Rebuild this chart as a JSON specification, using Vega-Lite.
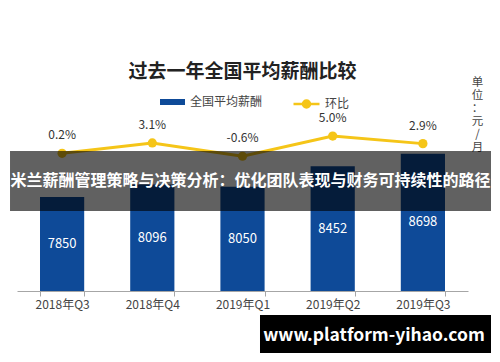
{
  "$schema": "https://vega.github.io/schema/vega-lite/v6.json",
  "width": 451,
  "height": 178,
  "autosize": {"type": "none"},
  "padding": {"left": 17, "top": 113, "right": 32, "bottom": 71},
  "background": "white",
  "title": {
    "text": "过去一年全国平均薪酬比较",
    "frame": "group",
    "anchor": "middle",
    "fontSize": 19,
    "fontWeight": "bold",
    "color": "#222222",
    "font": "Noto Sans CJK SC",
    "offset": -6
  },
  "config": {
    "view": {"stroke": null},
    "font": "Noto Sans CJK SC",
    "locale": {"number": {"decimal": ".", "thousands": ",", "grouping": [3], "currency": ["", ""], "minus": "-"}}
  },
  "layer": [
    {
      "data": {
        "values": [
          {"quarter": "2018年Q3", "salary": 7850, "mom": 0.002},
          {"quarter": "2018年Q4", "salary": 8096, "mom": 0.031},
          {"quarter": "2019年Q1", "salary": 8050, "mom": -0.006},
          {"quarter": "2019年Q2", "salary": 8452, "mom": 0.05},
          {"quarter": "2019年Q3", "salary": 8698, "mom": 0.029}
        ]
      },
      "encoding": {
        "x": {
          "field": "quarter",
          "type": "nominal",
          "sort": null,
          "scale": {"type": "band", "paddingInner": 0.51, "paddingOuter": 0.255},
          "axis": {
            "title": null,
            "labelAngle": 0,
            "labelFontSize": 12,
            "labelColor": "#444444",
            "labelPadding": 3,
            "domainColor": "#a6a6a6",
            "tickColor": "#a6a6a6",
            "tickSize": 5,
            "tickBand": "extent",
            "grid": false
          }
        }
      },
      "layer": [
        {
          "mark": {"type": "bar"},
          "encoding": {
            "y": {"field": "salary", "type": "quantitative", "scale": {"domain": [6000, 9500], "nice": false, "zero": false}, "axis": null},
            "y2": {"datum": 6000},
            "fill": {
              "datum": "全国平均薪酬",
              "type": "nominal",
              "scale": {"domain": ["全国平均薪酬"], "range": ["#0e4a98"]},
              "legend": {
                "title": null,
                "orient": "none",
                "legendX": 143,
                "legendY": -23.5,
                "padding": 0,
                "symbolType": "M-1,-0.24H1V0.24H-1Z",
                "symbolSize": 625,
                "symbolStrokeWidth": 0,
                "labelFontSize": 12,
                "labelColor": "#444444",
                "labelOffset": 5
              }
            }
          }
        },
        {
          "mark": {"type": "text", "color": "white", "fontSize": 13, "baseline": "middle"},
          "encoding": {
            "y": {"field": "salary", "type": "quantitative", "scale": {"domain": [6000, 13000], "nice": false, "zero": false}, "axis": null},
            "text": {"field": "salary", "type": "quantitative", "format": "d"}
          }
        },
        {
          "mark": {"type": "line", "strokeWidth": 3},
          "encoding": {
            "y": {
              "field": "mom",
              "type": "quantitative",
              "scale": {"domain": [-0.38, 0.114], "nice": false, "zero": false},
              "axis": {
                "orient": "right",
                "labels": false,
                "ticks": false,
                "domain": false,
                "grid": false,
                "title": ["单", "位", "：", "元", "/", "月"],
                "titleAngle": 0,
                "titleAlign": "center",
                "titleBaseline": "top",
                "titleX": 9,
                "titleY": -37,
                "titleFontSize": 11.5,
                "titleFontWeight": "normal",
                "titleColor": "#444444",
                "titleLineHeight": 13
              }
            },
            "stroke": {
              "datum": "环比",
              "type": "nominal",
              "scale": {"domain": ["环比"], "range": ["#f5c518"]},
              "legend": {
                "title": null,
                "orient": "none",
                "legendX": 275,
                "legendY": -23.5,
                "padding": 0,
                "symbolType": "M-1,0H1M0.27,0A0.27,0.27,0,1,1,-0.27,0A0.27,0.27,0,1,1,0.27,0Z",
                "symbolSize": 676,
                "symbolStrokeWidth": 2.5,
                "symbolFillColor": "#f5c518",
                "labelFontSize": 12,
                "labelColor": "#444444",
                "labelOffset": 4
              }
            }
          }
        },
        {
          "mark": {"type": "circle", "color": "#f5c518", "size": 85, "opacity": 1},
          "encoding": {
            "y": {"field": "mom", "type": "quantitative", "scale": {"domain": [-0.38, 0.114], "nice": false, "zero": false}, "axis": null}
          }
        },
        {
          "mark": {"type": "text", "color": "#333333", "fontSize": 12, "baseline": "middle", "dy": -18},
          "encoding": {
            "y": {"field": "mom", "type": "quantitative", "scale": {"domain": [-0.38, 0.114], "nice": false, "zero": false}, "axis": null},
            "text": {"field": "mom", "type": "quantitative", "format": ".1%"}
          }
        }
      ],
      "resolve": {"scale": {"y": "independent"}}
    },
    {
      "layer": [
        {
          "data": {"values": [{"text": "米兰薪酬管理策略与决策分析：优化团队表现与财务可持续性的路径"}]},
          "mark": {"type": "rect", "color": "black", "opacity": 0.62},
          "encoding": {
            "x": {"datum": -0.0155, "type": "quantitative", "scale": {"domain": [0, 1], "nice": false, "zero": false}, "axis": null},
            "x2": {"datum": 1.051},
            "y": {"datum": 0.7865, "type": "quantitative", "scale": {"domain": [0, 1], "nice": false, "zero": false}, "axis": null},
            "y2": {"datum": 0.4494}
          }
        },
        {
          "data": {"values": [{"text": "米兰薪酬管理策略与决策分析：优化团队表现与财务可持续性的路径"}]},
          "mark": {"type": "text", "color": "white", "fontSize": 16, "fontWeight": "bold", "baseline": "middle", "align": "center"},
          "encoding": {
            "x": {"datum": 0.5177, "type": "quantitative"},
            "y": {"datum": 0.618, "type": "quantitative"},
            "text": {"field": "text", "type": "nominal"}
          }
        },
        {
          "data": {"values": [{"text": "www.platform-yihao.com"}]},
          "mark": {"type": "rect", "color": "black", "opacity": 1},
          "encoding": {
            "x": {"datum": 0.5388, "type": "quantitative"},
            "x2": {"datum": 1.051},
            "y": {"datum": -0.1348, "type": "quantitative"},
            "y2": {"datum": -0.3483}
          }
        },
        {
          "data": {"values": [{"text": "www.platform-yihao.com"}]},
          "mark": {"type": "text", "color": "white", "fontSize": 17.5, "fontWeight": "bold", "baseline": "middle", "align": "center"},
          "encoding": {
            "x": {"datum": 0.7916, "type": "quantitative"},
            "y": {"datum": -0.2528, "type": "quantitative"},
            "text": {"field": "text", "type": "nominal"}
          }
        }
      ]
    }
  ],
  "resolve": {"scale": {"x": "independent", "y": "independent"}}
}
